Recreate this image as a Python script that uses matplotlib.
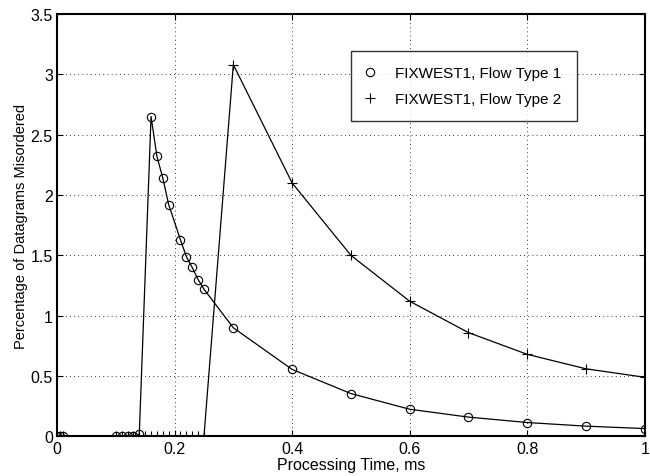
import numpy as np
import matplotlib
matplotlib.use("Agg")
import matplotlib.pyplot as plt

plt.rcParams['font.family'] = ['Liberation Sans', 'DejaVu Sans']

# processing time (ms) and percentage of datagrams misordered
x_type1 = [0, 0.005, 0.01, 0.10, 0.11, 0.12, 0.13, 0.14,
           0.16, 0.17, 0.18, 0.19, 0.21, 0.22, 0.23, 0.24, 0.25,
           0.3, 0.4, 0.5, 0.6, 0.7, 0.8, 0.9, 1.0]
y_type1 = [0, 0, 0, 0, 0, 0, 0, 0.02,
           2.65, 2.32, 2.14, 1.92, 1.63, 1.49, 1.40, 1.30, 1.22,
           0.90, 0.555, 0.355, 0.225, 0.16, 0.115, 0.085, 0.065]

x_type2 = [0, 0.005, 0.01, 0.10, 0.11, 0.12, 0.13, 0.14, 0.15,
           0.16, 0.17, 0.18, 0.19, 0.20, 0.21, 0.22, 0.23, 0.24, 0.25,
           0.3, 0.4, 0.5, 0.6, 0.7, 0.8, 0.9, 1.0]
y_type2 = [0, 0, 0, 0, 0, 0, 0, 0, 0,
           0, 0, 0, 0, 0, 0, 0, 0, 0, 0,
           3.08, 2.10, 1.50, 1.12, 0.86, 0.68, 0.56, 0.49]

fig = plt.figure(figsize=(6.5, 4.77), dpi=100)
ax = fig.add_axes([0.0877, 0.083, 0.9043, 0.8856])

ax.plot(x_type1, y_type1, color='black', lw=0.9, marker='o', ms=6,
        mfc='none', mec='black', mew=0.8, label='FIXWEST1, Flow Type 1')
ax.plot(x_type2, y_type2, color='black', lw=0.9, marker='+', ms=7,
        mew=0.8, label='FIXWEST1, Flow Type 2')

ax.set_xlim(0, 1)
ax.set_ylim(0, 3.5)
ax.set_xticks([0, 0.2, 0.4, 0.6, 0.8, 1])
ax.set_xticklabels(['0', '0.2', '0.4', '0.6', '0.8', '1'])
ax.set_yticks(np.arange(0, 3.51, 0.5))
ax.set_yticklabels(['0', '0.5', '1', '1.5', '2', '2.5', '3', '3.5'])

ax.grid(True, color='black', linestyle=(0, (1, 4)), linewidth=0.6)
ax.tick_params(direction='in', length=4, width=0.8, labelsize=11.5,
               top=True, right=True, pad=3)
for s in ax.spines.values():
    s.set_linewidth(1.5)

ax.set_xlabel('Processing Time, ms', fontsize=11.5, labelpad=1)
ax.set_ylabel('Percentage of Datagrams Misordered', fontsize=10.5, labelpad=2)

leg = ax.legend(loc='upper left', bbox_to_anchor=(0.5, 0.912), fontsize=11,
                frameon=True, fancybox=False, edgecolor='black',
                borderaxespad=0, borderpad=1.0, handlelength=0.5,
                handletextpad=1.4, labelspacing=0.75)
leg.get_frame().set_linewidth(1.0)
for h in leg.get_lines():
    h.set_linestyle('none')

fig.savefig('out.png', dpi=100)
